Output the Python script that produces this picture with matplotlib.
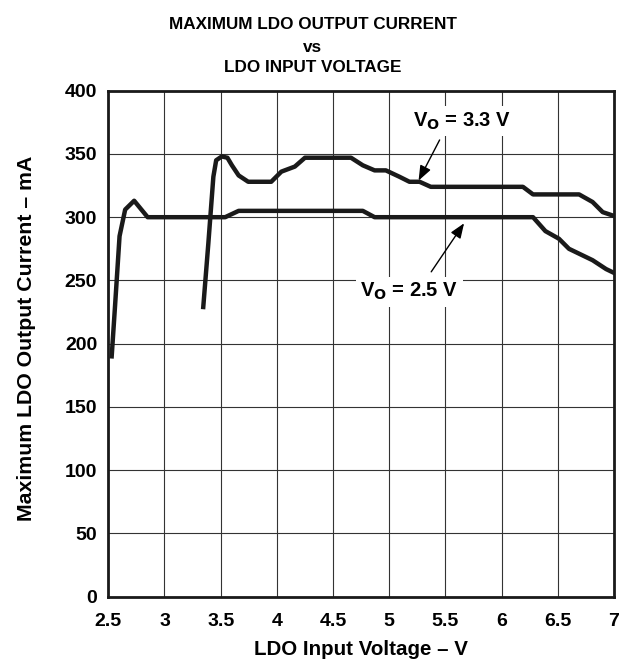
import matplotlib
matplotlib.use("Agg")
import matplotlib.pyplot as plt

plt.rcParams['font.family'] = ['Liberation Sans', 'DejaVu Sans']
plt.rcParams['font.weight'] = 'bold'

# V_O = 2.5 V curve
vin_25 = [2.53, 2.56, 2.6, 2.65, 2.73, 2.85, 3.54, 3.66, 4.765, 4.87, 6.28,
          6.39, 6.51, 6.60, 6.81, 6.93, 7.0]
iout_25 = [190, 230, 285, 306, 313, 300, 300, 305, 305, 300, 300,
           289, 283, 275, 266, 259, 256]

# V_O = 3.3 V curve
vin_33 = [3.345, 3.39, 3.435, 3.46, 3.51, 3.56, 3.60, 3.66, 3.745, 3.95,
          4.04, 4.16, 4.25, 4.66, 4.765, 4.87, 4.97, 5.09, 5.18, 5.27, 5.37,
          6.19, 6.28, 6.69, 6.81, 6.90, 7.0]
iout_33 = [229, 279, 332, 345, 348, 347, 341, 333, 328, 328,
           336, 340, 347, 347, 341, 337, 337, 332, 328, 328, 324,
           324, 318, 318, 312, 304, 301]

xticks = [2.5, 3, 3.5, 4, 4.5, 5, 5.5, 6, 6.5, 7]
xtick_labels = ['2.5', '3', '3.5', '4', '4.5', '5', '5.5', '6', '6.5', '7']
yticks = [0, 50, 100, 150, 200, 250, 300, 350, 400]
title_lines = ['MAXIMUM LDO OUTPUT CURRENT', 'vs', 'LDO INPUT VOLTAGE']

fig = plt.figure(figsize=(6.25, 6.59), dpi=100)
ax = fig.add_axes([0.1733, 0.0945, 0.809, 0.7679])

ax.plot(vin_25, iout_25, color='#1a1a1a', linewidth=3.2, solid_joinstyle='round', zorder=3)
ax.plot(vin_33, iout_33, color='#1a1a1a', linewidth=3.2, solid_joinstyle='round', zorder=3)

ax.set_xlim(2.5, 7)
ax.set_ylim(0, 400)
ax.set_xticks(xticks)
ax.set_xticklabels(xtick_labels)
ax.set_yticks(yticks)
ax.tick_params(length=0, labelsize=14)
ax.tick_params(axis='y', pad=8)
ax.tick_params(axis='x', pad=12)
ax.grid(True, color='#333333', linewidth=0.8)
for s in ax.spines.values():
    s.set_linewidth(2)
    s.set_color('#1a1a1a')

ax.set_xlabel('LDO Input Voltage – V', fontsize=14.8, fontweight='bold', labelpad=7)
ax.set_ylabel('Maximum LDO Output Current – mA', fontsize=15.3, fontweight='bold', labelpad=21)
ax.yaxis.label.set_y(0.511)

# title, three centred lines
for txt, yb in zip(title_lines, [0.956, 0.921, 0.8907]):
    fig.text(0.5, yb, txt, ha='center', va='baseline', fontsize=12.3, fontweight='bold')

bbox = dict(facecolor='white', edgecolor='none', pad=3)
ax.annotate('', xy=(5.25, 327), xytext=(5.46, 363),
            arrowprops=dict(arrowstyle='-|>,head_length=0.9,head_width=0.35',
                            color='black', lw=1), zorder=4)
ax.text(5.65, 376, r'V$_\mathbf{O}$ = 3.3 V', fontsize=14.5, ha='center', va='center',
        bbox=bbox, zorder=5)
ax.annotate('', xy=(5.68, 297), xytext=(5.36, 255),
            arrowprops=dict(arrowstyle='-|>,head_length=0.9,head_width=0.35',
                            color='black', lw=1), zorder=4)
ax.text(5.18, 241, r'V$_\mathbf{O}$ = 2.5 V', fontsize=14.5, ha='center', va='center',
        bbox=bbox, zorder=5)

fig.savefig('out.png', dpi=100)
